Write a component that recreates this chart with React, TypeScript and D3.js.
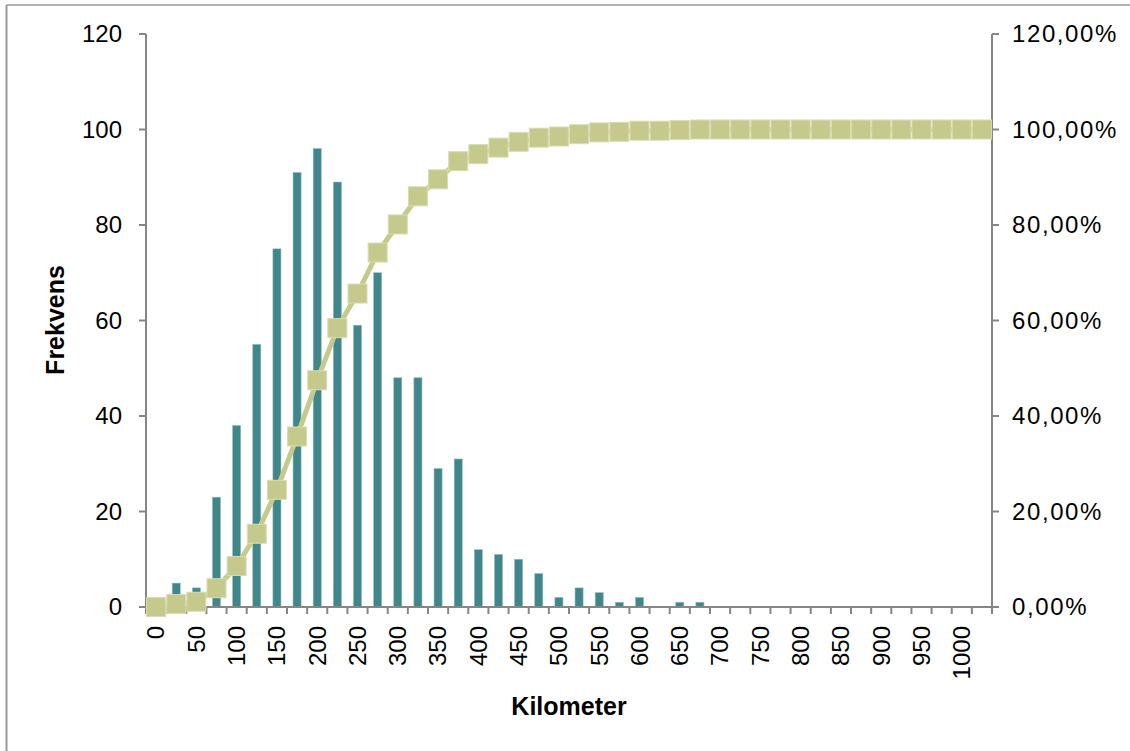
import * as d3 from "d3";

// afstand i kilometer (25 km klasser)
const kmClasses = [
  0, 25, 50, 75, 100, 125, 150, 175, 200, 225, 250, 275, 300, 325, 350, 375, 400, 425, 450, 475, 500,
  525, 550, 575, 600, 625, 650, 675, 700, 725, 750, 775, 800, 825, 850, 875, 900, 925, 950, 975, 1000, 1025,
];

const frekvens = [
  0, 5, 4, 23, 38, 55, 75, 91, 96, 89, 59, 70, 48, 48, 29, 31, 12, 11, 10, 7, 2,
  4, 3, 1, 2, 0, 1, 1, 0, 0, 0, 0, 0, 0, 0, 0, 0, 0, 0, 0, 0, 0,
];

// kumulativ %
const kumulativ = [
  0, 0.61, 1.1, 3.93, 8.59, 15.34, 24.54, 35.71, 47.48, 58.4, 65.64, 74.23, 80.12, 86.01, 89.57, 93.37,
  94.85, 96.2, 97.42, 98.28, 98.53, 99.02, 99.39, 99.51, 99.75, 99.75, 99.88, 100, 100, 100, 100, 100,
  100, 100, 100, 100, 100, 100, 100, 100, 100, 100,
];

const leftTicks = [0, 20, 40, 60, 80, 100, 120];
const rightTicks = [0, 20, 40, 60, 80, 100, 120];

const W = 1130;
const H = 751;
const plot = { left: 146, right: 992, top: 34, bottom: 607 };
const axisColor = "#868686";
const barColor = "#41868b";
const lineColor = "#c5ca8c";
const font = "'Liberation Sans', Arial, sans-serif";

export default function App() {
  const x = d3
    .scaleBand<number>()
    .domain(kmClasses)
    .range([plot.left, plot.right])
    .padding(0);
  const yL = d3.scaleLinear().domain([0, 120]).range([plot.bottom, plot.top]);
  const yR = d3.scaleLinear().domain([0, 120]).range([plot.bottom, plot.top]);
  const bw = x.bandwidth();
  const barW = bw * 0.4;
  const cx = (k: number) => x(k)! + bw / 2;

  const line = d3
    .line<number>()
    .x((_, i) => cx(kmClasses[i]))
    .y((d) => yR(d));

  const ms = 19;

  return (
    <svg
      width={W}
      height={H}
      style={{ position: "absolute", left: 0, top: 0, background: "#fff" }}
      fontFamily={font}
    >
      <rect x={0} y={0} width={W} height={H} fill="#fff" />
      {/* ytterram */}
      <line x1={6.5} y1={5} x2={W} y2={5} stroke="#9a9a9a" strokeWidth={1.5} />
      <line x1={6.5} y1={5} x2={6.5} y2={H} stroke="#9a9a9a" strokeWidth={2} />

      {/* staplar */}
      {frekvens.map((v, i) =>
        v > 0 ? (
          <rect
            key={i}
            x={cx(kmClasses[i]) - barW / 2}
            y={yL(v)}
            width={barW}
            height={yL(0) - yL(v)}
            fill={barColor}
            stroke="#8fbcbe"
            strokeWidth={0.6}
          />
        ) : null
      )}

      {/* axlar */}
      <line x1={plot.left} y1={plot.top} x2={plot.left} y2={plot.bottom} stroke={axisColor} strokeWidth={2} />
      <line x1={plot.right} y1={plot.top} x2={plot.right} y2={plot.bottom} stroke={axisColor} strokeWidth={2} />
      <line x1={plot.left} y1={plot.bottom} x2={plot.right} y2={plot.bottom} stroke={axisColor} strokeWidth={2} />

      {leftTicks.map((t) => (
        <g key={"l" + t}>
          <line x1={plot.left - 7} x2={plot.left} y1={yL(t)} y2={yL(t)} stroke={axisColor} strokeWidth={2} />
          <text x={122} y={yL(t)} dy="0.35em" textAnchor="end" fontSize={24} fill="#000">
            {t}
          </text>
        </g>
      ))}
      {rightTicks.map((t) => (
        <g key={"r" + t}>
          <line x1={plot.right} x2={plot.right + 7} y1={yR(t)} y2={yR(t)} stroke={axisColor} strokeWidth={2} />
          <text x={1012} y={yR(t)} dy="0.35em" textAnchor="start" fontSize={24} letterSpacing={1.6} fill="#000">
            {t.toFixed(2).replace(".", ",")}%
          </text>
        </g>
      ))}

      {kmClasses.map((k) => (
        <line
          key={"xt" + k}
          x1={x(k)!}
          x2={x(k)!}
          y1={plot.bottom}
          y2={plot.bottom + 7}
          stroke={axisColor}
          strokeWidth={2}
        />
      ))}
      <line x1={plot.right} x2={plot.right} y1={plot.bottom} y2={plot.bottom + 7} stroke={axisColor} strokeWidth={2} />

      {kmClasses.map((k, i) =>
        i % 2 === 0 ? (
          <text
            key={"xl" + k}
            transform={`translate(${cx(k)},626) rotate(-90)`}
            dy="0.35em"
            textAnchor="end"
            fontSize={24}
            fill="#000"
          >
            {k}
          </text>
        ) : null
      )}

      {/* kumulativ linje */}
      <path d={line(kumulativ) ?? ""} fill="none" stroke={lineColor} strokeWidth={5} strokeLinejoin="round" />
      {kumulativ.map((v, i) => (
        <rect
          key={"m" + i}
          x={cx(kmClasses[i]) - ms / 2}
          y={yR(v) - ms / 2}
          width={ms}
          height={ms}
          fill={lineColor}
          stroke="#d9dcb2"
          strokeWidth={1}
        />
      ))}

      <text
        transform="translate(55,320) rotate(-90)"
        dy="0.35em"
        textAnchor="middle"
        fontSize={25}
        fontWeight="bold"
        fill="#000"
      >
        Frekvens
      </text>
      <text x={569} y={715} textAnchor="middle" fontSize={25} fontWeight="bold" fill="#000">
        Kilometer
      </text>
    </svg>
  );
}
